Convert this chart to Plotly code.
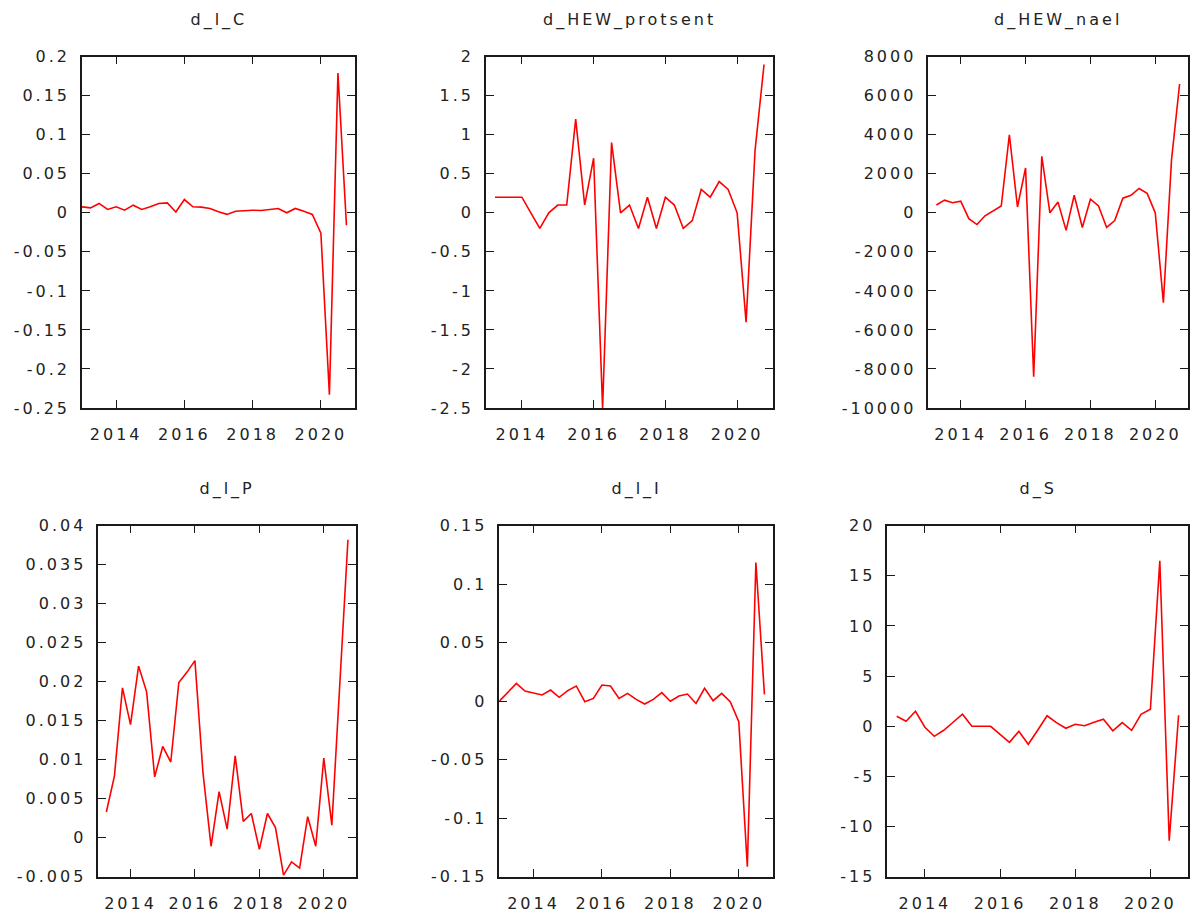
import plotly.graph_objects as go

# ---------------- data ----------------
def quarter_labels(start_year, start_q, n):
    out = []
    y, q = start_year, start_q
    for _ in range(n):
        out.append(f"{y}:{q}")
        q += 1
        if q > 4:
            q = 1
            y += 1
    return out

periods_from_2013q1 = quarter_labels(2013, 1, 32)
periods_from_2013q2 = quarter_labels(2013, 2, 31)

d_l_C = [0.0077, 0.0064, 0.012, 0.0043, 0.0077, 0.0034, 0.0098, 0.0043,
         0.0077, 0.012, 0.0128, 0.001, 0.017, 0.0077, 0.0073, 0.0056,
         0.0013, -0.002, 0.002, 0.003, 0.0034, 0.003, 0.0043, 0.0056,
         0.0, 0.0056, 0.002, -0.002, -0.026, -0.233, 0.179, -0.016]

d_HEW_protsent = [0.2, 0.2, 0.2, 0.2, 0.0, -0.2, 0.0, 0.1, 0.1, 1.2, 0.1,
                  0.7, -2.5, 0.9, 0.0, 0.1, -0.2, 0.2, -0.2, 0.2, 0.1, -0.2,
                  -0.1, 0.3, 0.2, 0.4, 0.3, 0.0, -1.4, 0.8, 1.9]

d_HEW_nael = [400, 650, 520, 600, -300, -600, -150, 100, 350, 4000, 300,
              2300, -8400, 2900, 0, 550, -900, 900, -750, 700, 350, -750,
              -400, 750, 900, 1250, 1000, 0, -4600, 2700, 6600]

d_l_P = [0.0033, 0.0079, 0.0192, 0.0145, 0.022, 0.0187, 0.0078, 0.0117,
         0.0097, 0.0199, 0.0212, 0.0227, 0.0083, -0.0011, 0.0059, 0.0011,
         0.0105, 0.0021, 0.0031, -0.0015, 0.0031, 0.0013, -0.0048, -0.0031,
         -0.0039, 0.0027, -0.0011, 0.0102, 0.0016, 0.02, 0.0382]

d_l_I = [0.0, 0.0078, 0.0152, 0.0087, 0.0067, 0.0053, 0.0095, 0.0033,
         0.009, 0.013, -0.0004, 0.0024, 0.0138, 0.013, 0.0024, 0.0067,
         0.0016, -0.0024, 0.0016, 0.0073, 0.0, 0.0044, 0.0061, -0.0019,
         0.011, 0.0004, 0.0067, -0.0004, -0.0175, -0.1415, 0.1185, 0.0058]

d_S = [1.0, 0.5, 1.5, -0.1, -1.0, -0.4, 0.4, 1.2, 0.0, 0.0, 0.0, -0.8,
       -1.6, -0.5, -1.8, -0.4, 1.05, 0.36, -0.2, 0.2, 0.05, 0.4, 0.7,
       -0.45, 0.36, -0.4, 1.2, 1.7, 16.5, -11.4, 1.1]

x_tick_vals = [2014, 2016, 2018, 2020]
x_tick_text = ["2014", "2016", "2018", "2020"]

C_tick_vals = [-0.25, -0.2, -0.15, -0.1, -0.05, 0, 0.05, 0.1, 0.15, 0.2]
C_tick_text = ["-0.25", "-0.2", "-0.15", "-0.1", "-0.05", "0", "0.05", "0.1", "0.15", "0.2"]

prot_tick_vals = [-2.5, -2, -1.5, -1, -0.5, 0, 0.5, 1, 1.5, 2]
prot_tick_text = ["-2.5", "-2", "-1.5", "-1", "-0.5", "0", "0.5", "1", "1.5", "2"]

nael_tick_vals = [-10000, -8000, -6000, -4000, -2000, 0, 2000, 4000, 6000, 8000]
nael_tick_text = ["-10000", "-8000", "-6000", "-4000", "-2000", "0", "2000", "4000", "6000", "8000"]

P_tick_vals = [-0.005, 0, 0.005, 0.01, 0.015, 0.02, 0.025, 0.03, 0.035, 0.04]
P_tick_text = ["-0.005", "0", "0.005", "0.01", "0.015", "0.02", "0.025", "0.03", "0.035", "0.04"]

I_tick_vals = [-0.15, -0.1, -0.05, 0, 0.05, 0.1, 0.15]
I_tick_text = ["-0.15", "-0.1", "-0.05", "0", "0.05", "0.1", "0.15"]

S_tick_vals = [-15, -10, -5, 0, 5, 10, 15, 20]
S_tick_text = ["-15", "-10", "-5", "0", "5", "10", "15", "20"]


def period_to_year(p):
    y, q = p.split(":")
    return int(y) + (int(q) - 1) / 4.0


# ---------------- layout ----------------
W, H = 1200, 914
panels = [
    ("d_l_C", periods_from_2013q1, d_l_C, C_tick_vals, C_tick_text, [-0.25, 0.2], (82, 355), (56.7, 408)),
    ("d_HEW_protsent", periods_from_2013q2, d_HEW_protsent, prot_tick_vals, prot_tick_text, [-2.5, 2], (486, 773), (56.7, 408)),
    ("d_HEW_nael", periods_from_2013q2, d_HEW_nael, nael_tick_vals, nael_tick_text, [-10000, 8000], (928.3, 1187.7), (56.7, 408)),
    ("d_l_P", periods_from_2013q2, d_l_P, P_tick_vals, P_tick_text, [-0.005, 0.04], (98.3, 356), (525.7, 876.7)),
    ("d_l_I", periods_from_2013q1, d_l_I, I_tick_vals, I_tick_text, [-0.15, 0.15], (499.3, 773), (525.7, 876.7)),
    ("d_S", periods_from_2013q2, d_S, S_tick_vals, S_tick_text, [-15, 20], (887.3, 1188), (525.7, 876.7)),
]

FONT = dict(family="DejaVu Sans", size=16, color="#222222")
AXCOL = "#1a1a1a"

fig = go.Figure()
layout = dict(
    width=W, height=H,
    margin=dict(l=0, r=0, t=0, b=0, autoexpand=False),
    paper_bgcolor="white", plot_bgcolor="white",
    showlegend=False,
    font=FONT,
    annotations=[],
)

for k, (title, periods, vals, ytv, ytt, yr, (x0, x1), (y0, y1)) in enumerate(panels, start=1):
    xs = [period_to_year(p) for p in periods]
    fig.add_trace(go.Scatter(
        x=xs, y=vals, mode="lines",
        line=dict(color="#ff0000", width=1.6),
        xaxis=f"x{k}", yaxis=f"y{k}", showlegend=False,
        hoverinfo="x+y",
    ))
    common = dict(
        showgrid=False, zeroline=False, showline=True, linecolor=AXCOL, linewidth=1.5,
        mirror="ticks", ticks="inside", ticklen=8, tickwidth=1.3, tickcolor=AXCOL,
        tickfont=FONT, fixedrange=True, automargin=False,
    )
    layout[f"xaxis{k}"] = dict(
        common, domain=[x0 / W, x1 / W], range=[2013, 2021],
        tickmode="array", tickvals=x_tick_vals, ticktext=x_tick_text,
        anchor=f"y{k}", ticklabelstandoff=11,
    )
    layout[f"yaxis{k}"] = dict(
        common, domain=[1 - y1 / H, 1 - y0 / H], range=yr,
        tickmode="array", tickvals=ytv, ticktext=ytt,
        anchor=f"x{k}", ticklabelstandoff=7,
    )
    title_y = 20 if y0 < 300 else 489
    layout["annotations"].append(dict(
        text=title, x=(x0 + x1) / 2 / W, y=1 - title_y / H,
        xref="paper", yref="paper", xanchor="center", yanchor="middle",
        showarrow=False, font=FONT,
    ))

fig.update_layout(**layout)

spacing_js = """
document.body.style.margin = '0';
document.body.style.padding = '0';
var gd = document.getElementById('{plot_id}');
if (gd) {
  gd.querySelectorAll('svg text').forEach(function(t){
    t.style.letterSpacing = '3px';
  });
}
"""

fig.write_html("out.html", post_script=spacing_js, config={"displayModeBar": False})
